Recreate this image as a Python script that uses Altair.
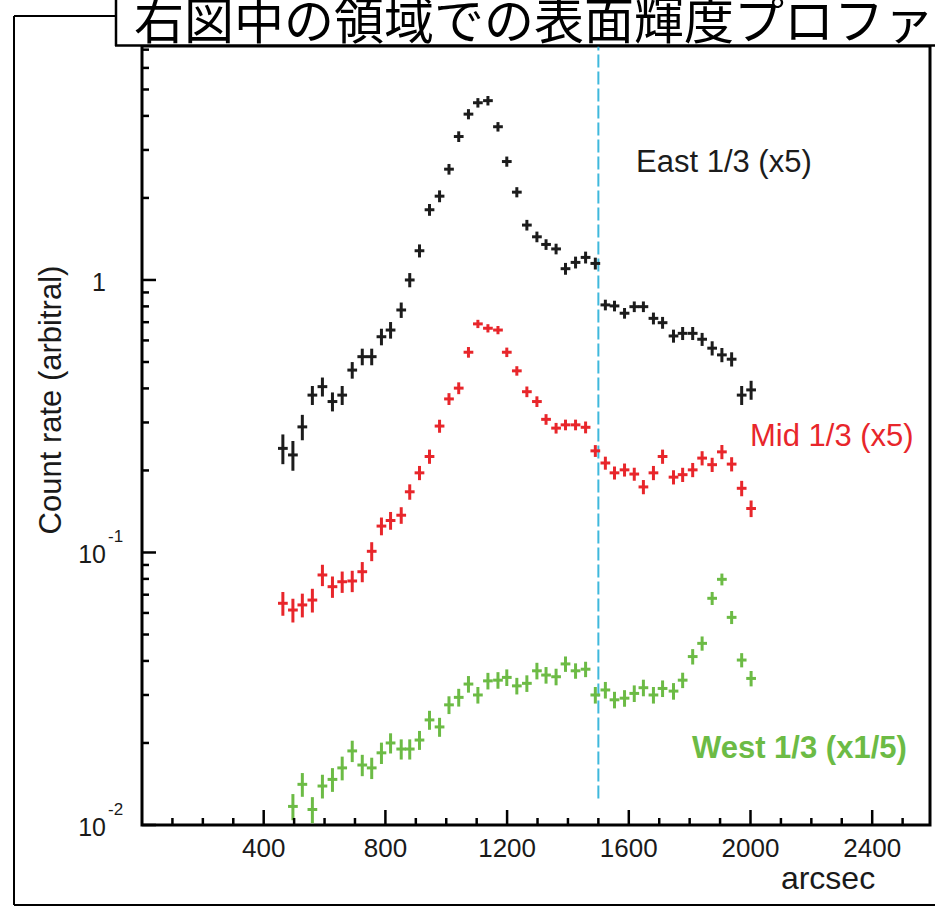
import altair as alt
import pandas as pd

# ---- data -------------------------------------------------------------
# radial bin centres (arcsec)
x_bins = [463, 496, 527, 560, 593, 626, 658, 691, 724, 755, 787, 817, 852, 880,
          912, 945, 978, 1009, 1041, 1073, 1104, 1137, 1170, 1199, 1232, 1265,
          1298, 1328, 1361, 1392, 1425, 1458, 1490, 1523, 1553, 1586, 1618,
          1648, 1681, 1711, 1747, 1777, 1810, 1841, 1874, 1906, 1938, 1971, 2002]

east = [0.241, 0.228, 0.289, 0.378, 0.406, 0.358, 0.378, 0.467, 0.523, 0.523,
        0.619, 0.655, 0.776, 1.00, 1.28, 1.81, 2.03, 2.55, 3.36, 4.06, 4.47,
        4.55, 3.65, 2.72, 2.10, 1.59, 1.44, 1.35, 1.30, 1.10, 1.16, 1.21, 1.15,
        0.810, 0.803, 0.755, 0.798, 0.798, 0.723, 0.697, 0.623, 0.637, 0.637,
        0.606, 0.562, 0.531, 0.512, 0.378, 0.395]
east_err = [0.125, 0.125, 0.107, 0.08, 0.08, 0.08, 0.08, 0.07, 0.07, 0.07, 0.07,
            0.07, 0.065, 0.06, 0.055, 0.05, 0.05, 0.045, 0.045, 0.043, 0.04,
            0.04, 0.04, 0.043, 0.043, 0.045, 0.045, 0.045, 0.045, 0.05, 0.05,
            0.05, 0.05, 0.045, 0.045, 0.045, 0.045, 0.045, 0.05, 0.05, 0.055,
            0.055, 0.055, 0.055, 0.06, 0.06, 0.06, 0.08, 0.08]

mid = [0.0651, 0.0615, 0.0642, 0.0669, 0.0827, 0.0749, 0.0781, 0.0786, 0.0850,
       0.101, 0.125, 0.131, 0.137, 0.167, 0.196, 0.225, 0.291, 0.366, 0.401,
       0.543, 0.690, 0.665, 0.655, 0.543, 0.464, 0.389, 0.358, 0.308, 0.286,
       0.294, 0.294, 0.288, 0.236, 0.213, 0.196, 0.201, 0.194, 0.174, 0.196,
       0.225, 0.189, 0.193, 0.201, 0.222, 0.210, 0.234, 0.211, 0.172, 0.145]
mid_err = [0.1, 0.1, 0.1, 0.1, 0.09, 0.09, 0.09, 0.09, 0.085, 0.08, 0.075, 0.075,
           0.07, 0.065, 0.06, 0.06, 0.055, 0.05, 0.05, 0.045, 0.035, 0.035,
           0.035, 0.04, 0.04, 0.045, 0.045, 0.045, 0.045, 0.045, 0.045, 0.05,
           0.05, 0.055, 0.055, 0.055, 0.055, 0.06, 0.06, 0.06, 0.06, 0.06, 0.06,
           0.06, 0.06, 0.06, 0.06, 0.065, 0.07]

# the innermost West bin falls below the plotted range
west_bins = [496, 527, 560, 593, 626, 658, 691, 724, 755, 787, 817, 852, 880,
             912, 945, 978, 1009, 1041, 1073, 1104, 1137, 1170, 1199, 1232, 1265,
             1298, 1328, 1361, 1392, 1425, 1458, 1490, 1523, 1553, 1586, 1618,
             1648, 1681, 1711, 1747, 1777, 1810, 1841, 1874, 1906, 1938, 1971, 2002]
west = [0.0117, 0.0141, 0.0114, 0.0139, 0.0147, 0.0162, 0.0187, 0.0166, 0.0162,
        0.0184, 0.0200, 0.0190, 0.0190, 0.0205, 0.0243, 0.0229, 0.0276, 0.0294,
        0.0329, 0.0300, 0.0338, 0.0340, 0.0348, 0.0324, 0.0331, 0.0368, 0.0355,
        0.0350, 0.0390, 0.0368, 0.0373, 0.0300, 0.0313, 0.0288, 0.0292, 0.0304,
        0.0319, 0.0300, 0.0317, 0.0310, 0.0340, 0.0415, 0.0464, 0.0679, 0.0797,
        0.0578, 0.0403, 0.0345]
west_err = [0.11, 0.1, 0.11, 0.1, 0.1, 0.1, 0.09, 0.09, 0.09, 0.09, 0.085, 0.085,
            0.085, 0.08, 0.08, 0.08, 0.075, 0.075, 0.07, 0.07, 0.07, 0.07, 0.07,
            0.07, 0.07, 0.07, 0.07, 0.07, 0.065, 0.065, 0.065, 0.07, 0.07, 0.07,
            0.07, 0.07, 0.07, 0.07, 0.07, 0.07, 0.065, 0.065, 0.06, 0.055, 0.05,
            0.055, 0.06, 0.065]

series_names = ["East 1/3 (x5)", "Mid 1/3 (x5)", "West 1/3 (x1/5)"]
series_colors = ["#1c1c1c", "#e8262b", "#6cbb45"]

half_bin = 16          # half width of a radial bin (arcsec)
boundary = 1500        # dashed marker position (arcsec)

x_labels = [400, 800, 1200, 1600, 2000, 2400]
x_label_text = ["400", "800", "1200", "1600", "2000", "2400"]
x_minor = [100, 200, 300, 500, 600, 700, 900, 1000, 1100, 1300, 1400, 1500,
           1700, 1800, 1900, 2100, 2200, 2300, 2500]
y_major = [1.0, 0.1, 0.01]
y_minor = [0.02, 0.03, 0.04, 0.05, 0.06, 0.07, 0.08, 0.09,
           0.2, 0.3, 0.4, 0.5, 0.6, 0.7, 0.8, 0.9,
           2, 3, 4, 5, 6, 7]
y_main_text = ["1", "10", "10"]
y_sup_text = ["", "-1", "-2"]

# slide heading (the part that fits on the slide)
title_text = "右図中の領域での表面輝度プロファ"

# ---- tables -----------------------------------------------------------
rows = []
for name, xs_, ys_, errs in [(series_names[0], x_bins, east, east_err),
                             (series_names[1], x_bins, mid, mid_err),
                             (series_names[2], west_bins, west, west_err)]:
    for x, y, e in zip(xs_, ys_, errs):
        rows.append({"series": name, "x": x, "x_lo": x - half_bin,
                     "x_hi": x + half_bin, "y": y,
                     "y_lo": y * (1 - e), "y_hi": y * (1 + e)})
points = pd.DataFrame(rows)

W, H = 788, 779
FONT = "Liberation Sans, Arial, Helvetica, sans-serif"
INK = "#1a1a1a"

xs = alt.Scale(domain=[0, 2590], nice=False, zero=False)
ys = alt.Scale(type="log", domain=[0.01, 7.22], nice=False)
colour = alt.Color("series:N", legend=None,
                   scale=alt.Scale(domain=series_names, range=series_colors))


def X(field):
    return alt.X(field, scale=xs, axis=None)


def Y(field):
    return alt.Y(field, scale=ys, axis=None)


# error-bar crosses
hbars = alt.Chart(points).mark_rule(strokeWidth=3).encode(
    x=X("x_lo:Q"), x2="x_hi:Q", y=Y("y:Q"), color=colour)
vbars = alt.Chart(points).mark_rule(strokeWidth=3).encode(
    x=X("x:Q"), y=Y("y_lo:Q"), y2="y_hi:Q", color=colour)

# dashed boundary line
bline = alt.Chart(pd.DataFrame({"x": [boundary], "lo": [0.0125], "hi": [7.22]})).mark_rule(
    color="#3fb8dc", strokeWidth=2, strokeDash=[13, 4]).encode(
    x=X("x:Q"), y=Y("lo:Q"), y2="hi:Q")

# inward tick marks
xt_major = alt.Chart(pd.DataFrame({"x": x_labels})).mark_rule(
    color="black", strokeWidth=2.5).encode(
    x=X("x:Q"), y=alt.value(H), y2=alt.value(H - 15))
xt_minor = alt.Chart(pd.DataFrame({"x": x_minor})).mark_rule(
    color="black", strokeWidth=2.5).encode(
    x=X("x:Q"), y=alt.value(H), y2=alt.value(H - 7))
yt_major = alt.Chart(pd.DataFrame({"v": y_major})).mark_rule(
    color="black", strokeWidth=2.5).encode(
    y=Y("v:Q"), x=alt.value(0), x2=alt.value(14))
yt_minor = alt.Chart(pd.DataFrame({"v": y_minor})).mark_rule(
    color="black", strokeWidth=2.5).encode(
    y=Y("v:Q"), x=alt.value(0), x2=alt.value(7))

# x tick labels
xlab = alt.Chart(pd.DataFrame({"x": x_labels, "t": x_label_text})).mark_text(
    font=FONT, fontSize=26, color=INK, align="center", baseline="top").encode(
    x=X("x:Q"), y=alt.value(H + 11), text="t:N")

# y tick labels with superscript exponents
ylab = pd.DataFrame({"v": y_major, "main": y_main_text, "sup": y_sup_text})
ylab_main = alt.Chart(ylab).mark_text(
    font=FONT, fontSize=25, color=INK, align="right", baseline="middle", dy=3).encode(
    y=Y("v:Q"), x=alt.value(-36), text="main:N")
ylab_sup = alt.Chart(ylab).mark_text(
    font=FONT, fontSize=17, color=INK, align="left", baseline="middle", dy=-15).encode(
    y=Y("v:Q"), x=alt.value(-34), text="sup:N")


def label(text, px, py, **kw):
    return alt.Chart(pd.DataFrame({"t": [text]})).mark_text(
        font=FONT, **kw).encode(text="t:N", x=alt.value(px), y=alt.value(py))


y_title = label("Count rate (arbitral)", -90, 354, fontSize=31, angle=270,
                align="center", baseline="middle", color=INK)
x_title = label("arcsec", 686, 843, fontSize=32, align="center",
                baseline="alphabetic", color=INK)
east_lab = label(series_names[0], 494, 117, fontSize=31, align="left",
                 baseline="middle", color=series_colors[0])
mid_lab = label(series_names[1], 608, 391, fontSize=31, align="left",
                baseline="middle", color=series_colors[1])
west_lab = label(series_names[2], 550, 703, fontSize=31, fontWeight="bold",
                 align="left", baseline="middle", color=series_colors[2])


# slide frame and title box, as rules
def hline(x1, x2, y, w):
    return alt.Chart(pd.DataFrame({"k": [0]})).mark_rule(
        color="black", strokeWidth=w).encode(
        x=alt.value(x1), x2=alt.value(x2), y=alt.value(y))


def vline(x, y1, y2, w):
    return alt.Chart(pd.DataFrame({"k": [0]})).mark_rule(
        color="black", strokeWidth=w).encode(
        x=alt.value(x), y=alt.value(y1), y2=alt.value(y2))


frame_parts = [hline(-128, 900, -30, 2), hline(-128, 900, 859, 2),
               vline(-128, -30, 859, 2)]
title_bg = alt.Chart(pd.DataFrame({"k": [0]})).mark_rect(
    fill="white", strokeWidth=0).encode(
    x=alt.value(-26), x2=alt.value(900), y=alt.value(-70), y2=alt.value(0))
title_parts = [hline(-27, 900, -0.5, 2.5), vline(-26, -70, 0, 2.5)]
title = alt.Chart(pd.DataFrame({"t": [title_text]})).mark_text(
    font="Noto Sans CJK JP", fontSize=50, color="black", align="left",
    baseline="alphabetic").encode(text="t:N", x=alt.value(-8), y=alt.value(-7))

chart = alt.layer(
    *frame_parts, bline, hbars, vbars, xt_major, xt_minor, yt_major, yt_minor,
    xlab, ylab_main, ylab_sup, y_title, x_title, east_lab, mid_lab, west_lab,
    title_bg, *title_parts, title,
).properties(
    width=W, height=H,
    autosize=alt.AutoSizeParams(type="none"),
    padding={"left": 142, "top": 46, "right": 5, "bottom": 84},
    background="white",
).configure_view(stroke="black", strokeWidth=3)

chart.save("out.html", embed_options={"renderer": "svg", "actions": False})
